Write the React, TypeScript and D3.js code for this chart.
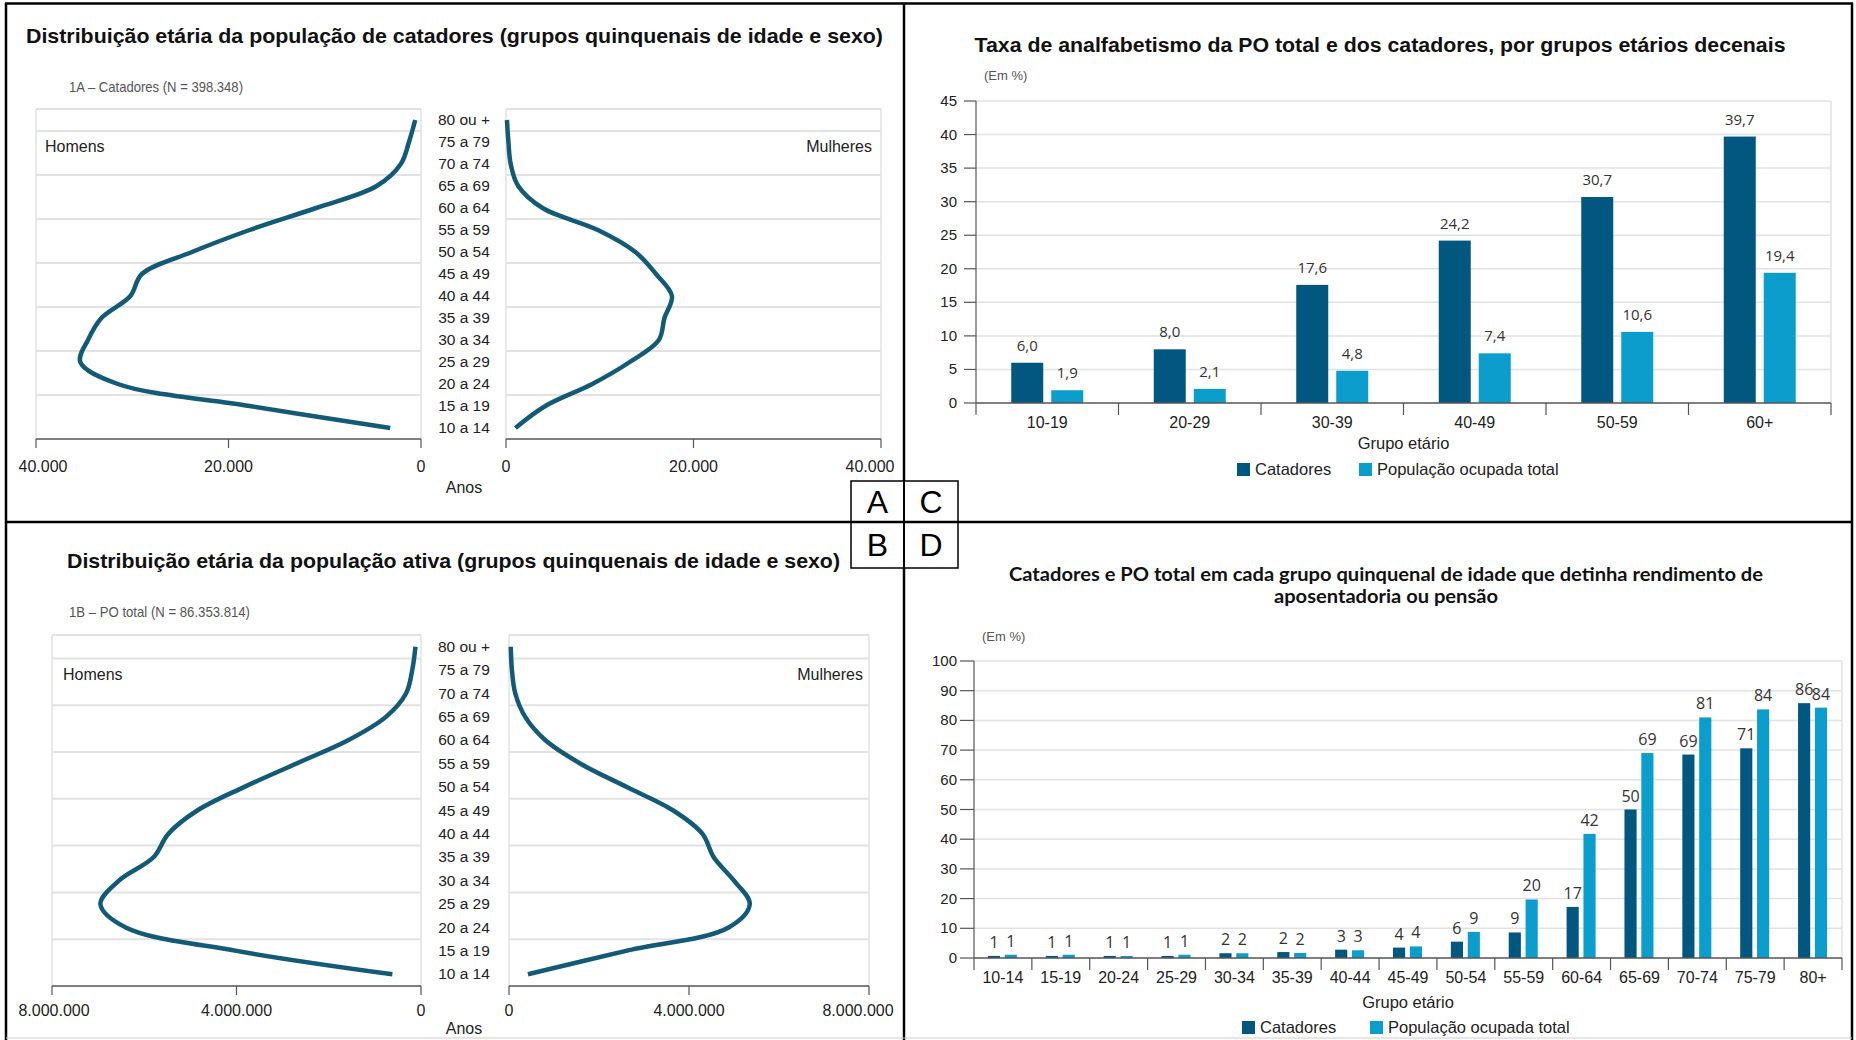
import React from 'react';
import * as d3 from 'd3';

// ---------- DATA ----------
const ageGroups5 = ['10 a 14', '15 a 19', '20 a 24', '25 a 29', '30 a 34', '35 a 39', '40 a 44', '45 a 49', '50 a 54', '55 a 59', '60 a 64', '65 a 69', '70 a 74', '75 a 79', '80 ou +'];
const catadoresHomens = [3200, 17800, 31500, 35400, 34600, 33200, 30200, 29000, 23800, 17800, 10900, 4600, 2100, 1250, 600];
const catadoresMulheres = [1000, 4200, 9200, 13200, 16300, 16900, 17700, 16000, 13800, 9800, 3900, 1300, 500, 260, 100];
const poHomens = [620000, 4000000, 6400000, 6950000, 6550000, 5800000, 5480000, 4850000, 3840000, 2710000, 1580000, 760000, 325000, 190000, 120000];
const poMulheres = [420000, 2600000, 4880000, 5350000, 5000000, 4550000, 4300000, 3650000, 2620000, 1590000, 810000, 360000, 140000, 65000, 40000];
const pyramidTicksA = [0, 20000, 40000];
const pyramidTicksB = [0, 4000000, 8000000];

const decadeGroups = ['10-19', '20-29', '30-39', '40-49', '50-59', '60+'];
const analfCatadores = [6.0, 8.0, 17.6, 24.2, 30.7, 39.7];
const analfPO = [1.9, 2.1, 4.8, 7.4, 10.6, 19.4];

const quinqGroups = ['10-14', '15-19', '20-24', '25-29', '30-34', '35-39', '40-44', '45-49', '50-54', '55-59', '60-64', '65-69', '70-74', '75-79', '80+'];
const aposCatadores = [0.7, 0.7, 0.7, 0.7, 1.6, 2.0, 2.8, 3.5, 5.5, 8.6, 17.2, 50.0, 68.5, 70.6, 85.8];
const aposPO = [1.1, 1.1, 0.7, 1.1, 1.6, 1.7, 2.6, 3.9, 8.8, 19.7, 41.8, 69.0, 81.0, 83.7, 84.3];

const seriesNames = ['Catadores', 'População ocupada total'];

// ---------- STYLE ----------
const DARK = '#01577f';
const LIGHT = '#0b9dcb';
const LINE = '#135a76';
const GRID = '#e2e2e2';
const AXIS = '#555';
const TXT = '#222';
const SANS = '"Liberation Sans", Arial, sans-serif';

const ptBR = d3.formatLocale({ decimal: ',', thousands: '.', grouping: [3], currency: ['R$', ''] });
const fmtThousands = ptBR.format(',d');
const fmtDec1 = ptBR.format('.1f');
const fmtInt = ptBR.format('.0f');

type PyrProps = {
  top: number; bottom: number; lx0: number; lx1: number; rx0: number; rx1: number; cx: number;
  max: number; ticks: number[]; homens: number[]; mulheres: number[];
  title: string; titleX: number; titleY: number; titleLen: number;
  sub: string; subX: number; subY: number; subLen: number;
  tickY: number; anosY: number; sexY: number; homensX: number; mulheresX: number;
  rightMaxLabelX: number; leftMaxLabelX: number;
};

function Pyramid(p: PyrProps) {
  const y = d3.scaleBand<string>().domain(ageGroups5).range([p.bottom, p.top]);
  const bw = y.bandwidth();
  const xl = d3.scaleLinear().domain([0, p.max]).range([p.lx1, p.lx0]);
  const xr = d3.scaleLinear().domain([0, p.max]).range([p.rx0, p.rx1]);
  const gridYs = [1, 3, 5, 7, 9, 11, 13, 14].map(i => y(ageGroups5[i]) as number);
  const cy = (i: number) => (y(ageGroups5[i]) as number) + bw / 2;
  const lineL = d3.line<number>().x(v => xl(v)).y((_, i) => cy(i)).curve(d3.curveCatmullRom.alpha(0.5));
  const lineR = d3.line<number>().x(v => xr(v)).y((_, i) => cy(i)).curve(d3.curveCatmullRom.alpha(0.5));
  return (
    <g fontFamily={SANS}>
      <text x={p.titleX} y={p.titleY} fontSize={21} fontWeight="bold" fill="#111" textLength={p.titleLen} lengthAdjust="spacingAndGlyphs">{p.title}</text>
      <text x={p.subX} y={p.subY} fontSize={15} fill="#555" textLength={p.subLen} lengthAdjust="spacingAndGlyphs">{p.sub}</text>
      {[[p.lx0, p.lx1], [p.rx0, p.rx1]].map(([a, b], k) => (
        <g key={k}>
          {gridYs.map((gy, j) => <line key={j} x1={a} x2={b} y1={gy} y2={gy} stroke={GRID} strokeWidth={2} />)}
          <line x1={a} x2={a} y1={p.top} y2={p.bottom} stroke={GRID} strokeWidth={1.5} />
          <line x1={b} x2={b} y1={p.top} y2={p.bottom} stroke={GRID} strokeWidth={1.5} />
          <line x1={a} x2={b} y1={p.bottom} y2={p.bottom} stroke={AXIS} strokeWidth={1.5} />
        </g>
      ))}
      {p.ticks.map(t => (
        <g key={'l' + t}>
          <line x1={xl(t)} x2={xl(t)} y1={p.bottom} y2={p.bottom + 9} stroke={AXIS} strokeWidth={1.2} />
          <text x={t === p.max ? p.leftMaxLabelX : xl(t)} y={p.tickY} fontSize={16} textAnchor="middle" fill={TXT}>{fmtThousands(t)}</text>
        </g>
      ))}
      {p.ticks.map(t => (
        <g key={'r' + t}>
          <line x1={xr(t)} x2={xr(t)} y1={p.bottom} y2={p.bottom + 9} stroke={AXIS} strokeWidth={1.2} />
          <text x={t === p.max ? p.rightMaxLabelX : xr(t)} y={p.tickY} fontSize={16} textAnchor="middle" fill={TXT}>{fmtThousands(t)}</text>
        </g>
      ))}
      {ageGroups5.map((g, i) => (
        <text key={g} x={p.cx} y={cy(i) + 5} fontSize={15.5} textAnchor="middle" fill={TXT}>{g}</text>
      ))}
      <text x={p.cx} y={p.anosY} fontSize={16} textAnchor="middle" fill={TXT}>Anos</text>
      <text x={p.homensX} y={p.sexY} fontSize={16} fill={TXT}>Homens</text>
      <text x={p.mulheresX} y={p.sexY} fontSize={16} fill={TXT} textAnchor="end">Mulheres</text>
      <path d={lineL(p.homens) || ''} fill="none" stroke={LINE} strokeWidth={4.5} strokeLinecap="butt" />
      <path d={lineR(p.mulheres) || ''} fill="none" stroke={LINE} strokeWidth={4.5} strokeLinecap="butt" />
    </g>
  );
}

type BarProps = {
  groups: string[]; a: number[]; b: number[]; x0: number; x1: number; yBottom: number; yTop: number;
  max: number; step: number; inner: [number, number]; innerPad: number; fmt: (v: number) => string;
  labelGap: number; labelFont: string; labelSize: number; yLabelX: number; tickLen: number; yFontSize: number;
  catY: number; grupoY: number; legendY: number; legendX: [number, number]; emX: number; emY: number;
};

function Bars(p: BarProps) {
  const x = d3.scaleBand<string>().domain(p.groups).range([p.x0, p.x1]);
  const xi = d3.scaleBand<string>().domain(['a', 'b']).range(p.inner).paddingInner(p.innerPad);
  const y = d3.scaleLinear().domain([0, p.max]).range([p.yBottom, p.yTop]);
  const ticks = d3.range(0, p.max + 0.001, p.step);
  const bw = xi.bandwidth();
  const cx = (g: string) => (x(g) as number) + x.bandwidth() / 2;
  const gcenter = (p.x0 + p.x1) / 2;
  return (
    <g fontFamily={SANS}>
      <text x={p.emX} y={p.emY} fontSize={13} fill="#555">(Em %)</text>
      {ticks.map(t => (
        <g key={t}>
          {t > 0 && <line x1={p.x0} x2={p.x1} y1={y(t)} y2={y(t)} stroke={GRID} strokeWidth={1.5} />}
          <line x1={p.x0 - p.tickLen} x2={p.x0} y1={y(t)} y2={y(t)} stroke={AXIS} strokeWidth={1.2} />
          <text x={p.yLabelX} y={y(t) + 5} fontSize={p.yFontSize} textAnchor="end" fill={TXT}>{t}</text>
        </g>
      ))}
      <line x1={p.x1} x2={p.x1} y1={p.yTop} y2={p.yBottom} stroke={GRID} strokeWidth={1.5} />
      <line x1={p.x0} x2={p.x0} y1={p.yTop} y2={p.yBottom + 12} stroke={AXIS} strokeWidth={1.2} />
      {p.groups.map((g, i) => (
        <g key={g}>
          <rect x={cx(g) + (xi('a') as number)} y={y(p.a[i])} width={bw} height={p.yBottom - y(p.a[i])} fill={DARK} />
          <rect x={cx(g) + (xi('b') as number)} y={y(p.b[i])} width={bw} height={p.yBottom - y(p.b[i])} fill={LIGHT} />
          <text x={cx(g) + (xi('a') as number) + bw / 2} y={y(p.a[i]) - p.labelGap} fontSize={p.labelSize} fontFamily={p.labelFont} textAnchor="middle" fill="#333">{p.fmt(p.a[i])}</text>
          <text x={cx(g) + (xi('b') as number) + bw / 2} y={y(p.b[i]) - p.labelGap} fontSize={p.labelSize} fontFamily={p.labelFont} textAnchor="middle" fill="#333">{p.fmt(p.b[i])}</text>
          <line x1={(x(g) as number) + x.bandwidth()} x2={(x(g) as number) + x.bandwidth()} y1={p.yBottom} y2={p.yBottom + 12} stroke={AXIS} strokeWidth={1.2} />
          <text x={cx(g)} y={p.catY} fontSize={16} textAnchor="middle" fill={TXT}>{g}</text>
        </g>
      ))}
      <line x1={p.x0} x2={p.x1} y1={p.yBottom} y2={p.yBottom} stroke={AXIS} strokeWidth={1.5} />
      <text x={gcenter} y={p.grupoY} fontSize={16.5} textAnchor="middle" fill={TXT}>Grupo etário</text>
      {seriesNames.map((s, i) => (
        <g key={s}>
          <rect x={p.legendX[i]} y={p.legendY - 12} width={13} height={13} fill={i === 0 ? DARK : LIGHT} />
          <text x={p.legendX[i] + 18} y={p.legendY} fontSize={16.5} fill={TXT}>{s}</text>
        </g>
      ))}
    </g>
  );
}

export default function App() {
  return (
    <div style={{ position: 'absolute', left: 0, top: 0 }}>
      <svg width={1856} height={1040} style={{ display: 'block', background: '#fff' }}>
        {/* frame */}
        <g stroke="#000" strokeWidth={2.5}>
          <line x1={5} x2={1853} y1={3.5} y2={3.5} />
          <line x1={6} x2={6} y1={3} y2={1040} />
          <line x1={1852} x2={1852} y1={3} y2={1040} />
          <line x1={904} x2={904} y1={3} y2={1040} />
          <line x1={5} x2={1853} y1={522} y2={522} />
        </g>
        <line x1={6} x2={1852} y1={1038} y2={1038} stroke="#ccc" strokeWidth={1} />

        <Pyramid top={109} bottom={439} lx0={36} lx1={421} rx0={506} rx1={881} cx={464} max={40000} ticks={pyramidTicksA}
          homens={catadoresHomens} mulheres={catadoresMulheres}
          title="Distribuição etária da população de catadores (grupos quinquenais de idade e sexo)" titleX={26} titleY={43} titleLen={857}
          sub="1A – Catadores (N = 398.348)" subX={69} subY={92} subLen={174}
          tickY={472} anosY={493} sexY={152} homensX={45} mulheresX={872} rightMaxLabelX={870} leftMaxLabelX={43} />

        <Pyramid top={635} bottom={986} lx0={52} lx1={421} rx0={509} rx1={869} cx={464} max={8000000} ticks={pyramidTicksB}
          homens={poHomens} mulheres={poMulheres}
          title="Distribuição etária da população ativa (grupos quinquenais de idade e sexo)" titleX={67} titleY={568} titleLen={773}
          sub="1B – PO total (N = 86.353.814)" subX={69} subY={617} subLen={181}
          tickY={1016} anosY={1034} sexY={680} homensX={63} mulheresX={863} rightMaxLabelX={858} leftMaxLabelX={54} />

        {/* Panel C */}
        <text x={1380} y={52} fontFamily={SANS} fontSize={20} fontWeight="bold" fill="#111" textAnchor="middle" textLength={811} lengthAdjust="spacingAndGlyphs">Taxa de analfabetismo da PO total e dos catadores, por grupos etários decenais</text>
        <Bars groups={decadeGroups} a={analfCatadores} b={analfPO} x0={976} x1={1831} yBottom={403} yTop={101} max={45} step={5}
          inner={[-36, 36]} innerPad={0.2} fmt={fmtDec1} labelGap={12} labelFont='"Open Sans", sans-serif' labelSize={15}
          yLabelX={957} tickLen={12} yFontSize={15} catY={428} grupoY={449} legendY={475} legendX={[1237, 1359]} emX={984} emY={80} />

        {/* Panel D */}
        <text x={1386} y={581} fontFamily='Lato, "Open Sans", sans-serif' fontSize={19} fontWeight="bold" fill="#111" textAnchor="middle" textLength={754} lengthAdjust="spacingAndGlyphs">Catadores e PO total em cada grupo quinquenal de idade que detinha rendimento de</text>
        <text x={1386} y={603} fontFamily='Lato, "Open Sans", sans-serif' fontSize={19} fontWeight="bold" fill="#111" textAnchor="middle" textLength={224} lengthAdjust="spacingAndGlyphs">aposentadoria ou pensão</text>
        <Bars groups={quinqGroups} a={aposCatadores} b={aposPO} x0={974} x1={1842} yBottom={958} yTop={661} max={100} step={10}
          inner={[-15, 14]} innerPad={0.28} fmt={fmtInt} labelGap={8} labelFont='"Open Sans", sans-serif' labelSize={16}
          yLabelX={957} tickLen={14} yFontSize={15} catY={983} grupoY={1008} legendY={1033} legendX={[1242, 1370]} emX={982} emY={641} />

        {/* A/B/C/D box */}
        <g>
          <rect x={851} y={481} width={107} height={87} fill="#fff" stroke="#000" strokeWidth={1.5} />
          <line x1={904} x2={904} y1={481} y2={568} stroke="#000" strokeWidth={2} />
          <line x1={851} x2={958} y1={522} y2={522} stroke="#000" strokeWidth={2.5} />
          {['A', 'C', 'B', 'D'].map((l, i) => (
            <text key={l} x={i % 2 === 0 ? 877.5 : 931} y={i < 2 ? 513 : 556} fontFamily={SANS} fontSize={32} textAnchor="middle" fill="#000">{l}</text>
          ))}
        </g>
      </svg>
    </div>
  );
}
